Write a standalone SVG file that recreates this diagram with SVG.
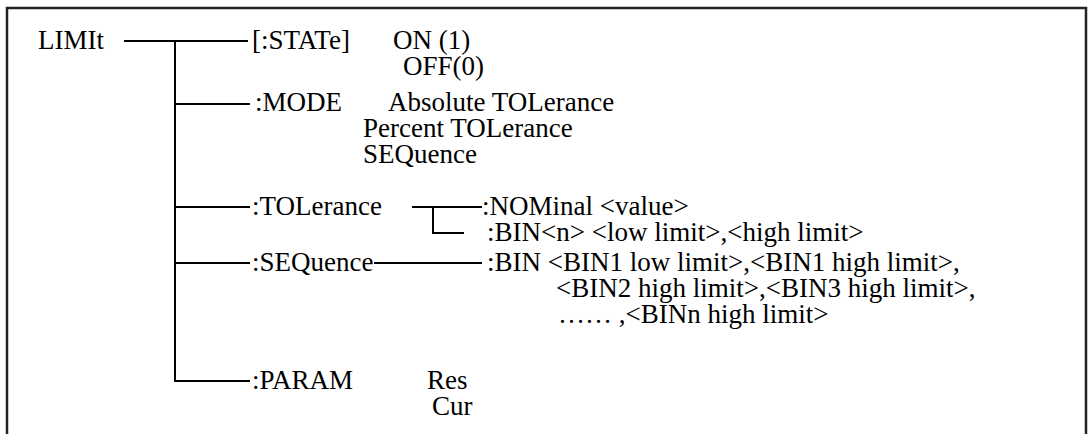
<svg xmlns="http://www.w3.org/2000/svg" width="1089" height="434" viewBox="0 0 1089 434">
<style>
text{font-family:"Liberation Serif","Times New Roman",serif;font-size:27px;fill:#000}
.ln{stroke:#000;stroke-width:2;fill:none}
.frame{stroke:#222;stroke-width:2.5;fill:none}
</style>
<rect width="1089" height="434" fill="#fff"/>
<path class="frame" d="M7,440 V8 H1086 V440"/>
<g id="connectors">
<path class="ln" d="M124,41 H248"/>
<path class="ln" d="M175,41 V381 H250"/>
<path class="ln" d="M175,104 H250"/>
<path class="ln" d="M175,207 H250"/>
<path class="ln" d="M175,263 H250"/>
<path class="ln" d="M412,207 H482"/>
<path class="ln" d="M433,207 V233 H464"/>
<path class="ln" d="M374,263 H482"/>
</g>
<g id="limit"><text x="38" y="49">LIMIt</text></g>
<g id="state"><text x="252" y="49">[:STATe]</text><text x="393" y="49">ON (1)</text><text x="403" y="75">OFF(0)</text></g>
<g id="mode"><text x="255" y="111">:MODE</text><text x="388" y="111">Absolute TOLerance</text><text x="363" y="137">Percent TOLerance</text><text x="363" y="163">SEQuence</text></g>
<g id="tolerance"><text x="252" y="215">:TOLerance</text><text x="482" y="215">:NOMinal &lt;value&gt;</text><text x="487" y="241">:BIN&lt;n&gt; &lt;low limit&gt;,&lt;high limit&gt;</text></g>
<g id="sequence"><text x="252" y="271">:SEQuence</text><text x="487" y="271">:BIN &lt;BIN1 low limit&gt;,&lt;BIN1 high limit&gt;,</text><text x="556" y="297">&lt;BIN2 high limit&gt;,&lt;BIN3 high limit&gt;,</text><text x="558" y="323">…… ,&lt;BINn high limit&gt;</text></g>
<g id="param"><text x="252" y="389">:PARAM</text><text x="427" y="389">Res</text><text x="432" y="415">Cur</text></g>
</svg>
